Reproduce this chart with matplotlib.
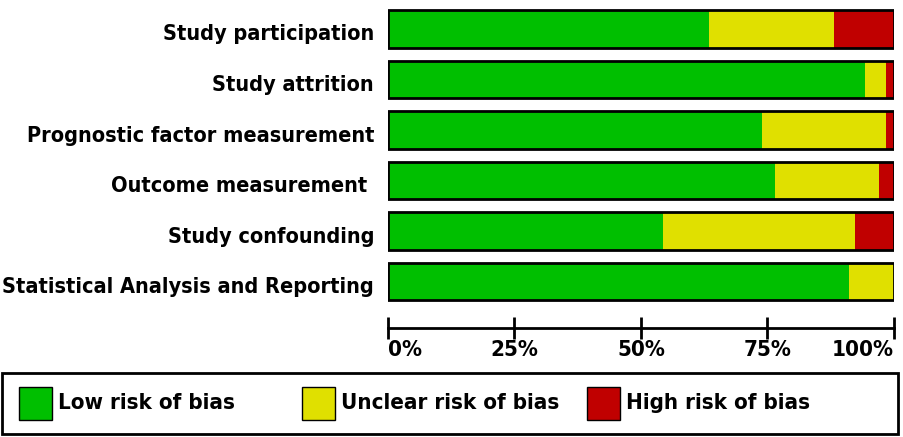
import matplotlib
matplotlib.use("Agg")
import matplotlib.pyplot as plt
from matplotlib.patches import Rectangle
from matplotlib.transforms import ScaledTranslation
import numpy as np

categories = ["Study participation", "Study attrition", "Prognostic factor measurement",
              "Outcome measurement ", "Study confounding", "Statistical Analysis and Reporting"]
low = [63.5, 94.3, 73.9, 76.5, 54.4, 91.1]
unclear = [24.7, 4.1, 24.5, 20.5, 37.9, 8.9]
high = [11.8, 1.6, 1.6, 3.0, 7.7, 0.0]
xticks = [0, 25, 50, 75, 100]
xticklabels = ["0%", "25%", "50%", "75%", "100%"]
legend_labels = ["Low risk of bias", "Unclear risk of bias", "High risk of bias"]
colors = ["#00BF00", "#E0E000", "#C00000"]

W, H = 904, 437
fig = plt.figure(figsize=(W / 100, H / 100), dpi=100)
FONT = dict(family="DejaVu Sans", weight="bold", stretch="condensed", size=16)
YFONT = dict(FONT, size=15.6)

ax = fig.add_axes([388 / W, (H - 328) / H, 506 / W, 328 / H])
y = np.arange(len(categories))
low_a = np.array(low)
unc_a = np.array(unclear)
high_a = np.array(high)
bh = 0.75
ax.barh(y, low_a, height=bh, color=colors[0], linewidth=0)
ax.barh(y, unc_a, left=low_a, height=bh, color=colors[1], linewidth=0)
ax.barh(y, high_a, left=low_a + unc_a, height=bh, color=colors[2], linewidth=0)
ax.barh(y, low_a + unc_a + high_a, height=bh, fill=False, edgecolor="black", linewidth=2)

ax.set_xlim(0, 100)
ax.set_ylim(5.92, -0.574)
for s in ["top", "left", "right"]:
    ax.spines[s].set_visible(False)
ax.spines["bottom"].set_linewidth(2)
ax.spines["bottom"].set_bounds(0, 100)
ax.set_yticks(y)
ax.set_yticklabels(categories, **YFONT)
ax.tick_params(axis="y", length=0, pad=10)
shift = ScaledTranslation(0, -3.5 / 100, fig.dpi_scale_trans)
for lab in ax.get_yticklabels():
    lab.set_transform(lab.get_transform() + shift)
ax.set_xticks(xticks)
ax.set_xticklabels(xticklabels, **FONT)
ax.tick_params(axis="x", direction="inout", length=16, width=2, pad=1)
labs = ax.get_xticklabels()
labs[0].set_ha("left")
labs[-1].set_ha("right")

# legend box
lax = fig.add_axes([0, 0, 1, 1])
lax.set_xlim(0, W)
lax.set_ylim(H, 0)
lax.axis("off")
lax.add_patch(Rectangle((2, 373), 896, 61, fill=False, edgecolor="black", linewidth=2))
starts = [19, 302, 587]
for sx, lab, c in zip(starts, legend_labels, colors):
    lax.add_patch(Rectangle((sx, 387), 33, 33, facecolor=c, edgecolor="black", linewidth=1))
    lax.text(sx + 39, 403, lab, va="center", ha="left", **FONT)

fig.savefig("out.png", dpi=100)
